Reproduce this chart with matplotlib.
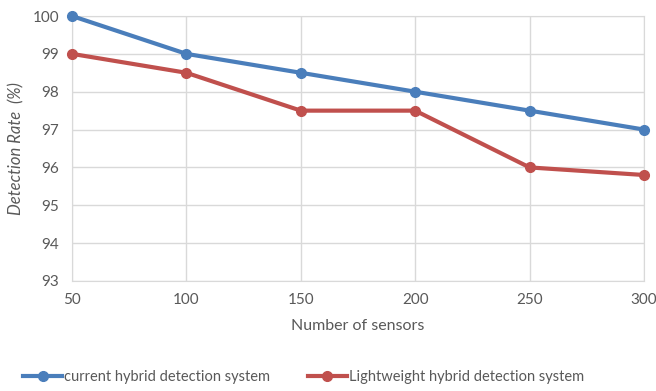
import matplotlib
matplotlib.use("Agg")
import matplotlib.pyplot as plt

sensors = [50, 100, 150, 200, 250, 300]
current = [100, 99, 98.5, 98, 97.5, 97]
lightweight = [99, 98.5, 97.5, 97.5, 96, 95.8]

BLUE = "#4a7ebb"
RED = "#c0504d"
TXT = "#595959"
GRID = "#d9d9d9"

plt.rcParams.update({"font.family": ["Lato", "DejaVu Sans"], "font.size": 10})

fig = plt.figure(figsize=(6.56, 3.91), dpi=100)
ax = fig.add_axes([72 / 656, 1 - 281 / 391, (644 - 72) / 656, (281 - 16) / 391])

ax.plot(sensors, current, color=BLUE, lw=3, marker="o", ms=7, label="current hybrid detection system", zorder=3, clip_on=False)
ax.plot(sensors, lightweight, color=RED, lw=3, marker="o", ms=7, label="Lightweight hybrid detection system", zorder=3, clip_on=False)

ax.set_xlim(50, 300)
ax.set_ylim(93, 100)
ax.set_xticks(sensors)
ax.set_yticks(range(93, 101))
ax.grid(True, color=GRID, lw=1)
ax.set_axisbelow(True)
for s in ax.spines.values():
    s.set_color(GRID)
ax.tick_params(length=0, colors=TXT, labelsize=11, pad=9)
ax.set_xlabel("Number of sensors", color=TXT, fontsize=11.5, labelpad=8)
ax.set_ylabel("Detection Rate  (%)", color=TXT, fontsize=12, style="italic", labelpad=6)

leg = fig.legend(loc="lower left", bbox_to_anchor=(0.015, -0.015), ncol=2, frameon=False,
                 fontsize=10.5, handlelength=2.7, handletextpad=0.1, columnspacing=2.6, labelcolor=TXT)
fig.savefig("out.png", dpi=100)
